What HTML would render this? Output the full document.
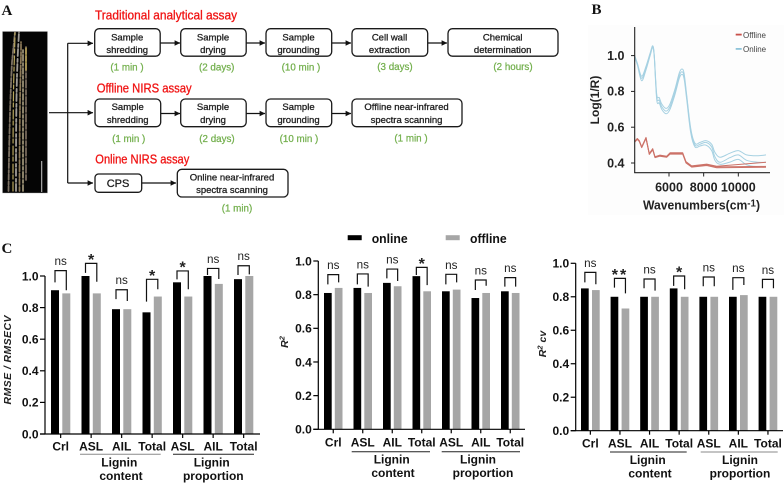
<!DOCTYPE html>
<html lang="en">
<head>
<meta charset="utf-8">
<title>NIRS assay workflow and model comparison</title>
<style>
html,body{margin:0;padding:0;background:#fff;width:784px;height:483px;overflow:hidden}
svg{display:block;filter:blur(.35px)}
text{font-family:"Liberation Sans",sans-serif}
.letter{font-family:"Liberation Serif",serif;font-weight:bold;font-size:15px;fill:#111}
.title{font-size:12.5px;fill:#f01414;stroke:#f01414;stroke-width:.3}
.box{fill:#fff;stroke:#1a1a1a;stroke-width:1.3}
.bt{font-size:9.5px;fill:#222;stroke:#222;stroke-width:.3;text-anchor:middle}
.dur{font-size:9.8px;fill:#74b04e;stroke:#74b04e;stroke-width:.25;text-anchor:middle}
.flow{stroke:#111;stroke-width:1.2;fill:none}
.stem{fill:none;stroke-linecap:round}
</style>
</head>
<body>
<svg id="fig" xmlns="http://www.w3.org/2000/svg" width="784" height="483" viewBox="0 0 784 483">
<defs>
<marker id="ah" markerWidth="6" markerHeight="6" refX="5.4" refY="2.8" orient="auto" markerUnits="userSpaceOnUse"><path d="M0 0L5.6 2.8L0 5.6Z" fill="#111"/></marker>
</defs>
<rect width="784" height="483" fill="#fff"/>

<text class="letter" x="1.5" y="15">A</text>
<text class="letter" x="591.5" y="14">B</text>
<text class="letter" x="1.5" y="253">C</text>

<g>
<rect x="2.5" y="31.5" width="45" height="161.5" fill="#050505" stroke="#aaa" stroke-width=".4"/>
<g class="stem">
<path d="M8.5 191C9 150 10 100 12 62L15 32" stroke="#7d7264" stroke-width="1.8" stroke-dasharray="5 1.5 3 2"/>
<path d="M13 191C13 150 13 90 14.5 55L15 33" stroke="#b9a75e" stroke-width="1.2" stroke-dasharray="9 3 4 2"/>
<path d="M16 191C16 140 16 90 18 50L19 32" stroke="#a09c96" stroke-width="1.8" stroke-dasharray="7 2 3 3"/>
<path d="M19.5 191C19.5 140 20 90 21 55L21 42" stroke="#8d7a58" stroke-width="1.7" stroke-dasharray="4 2 6 1.5"/>
<path d="M23 191C23 140 23 90 23 50" stroke="#a1977a" stroke-width="1.7" stroke-dasharray="6 2 3 2"/>
<path d="M26 180C26 130 26 90 26 47" stroke="#7c6e60" stroke-width="1.7" stroke-dasharray="5 2 8 2"/>
<path d="M26 70L26 48" stroke="#d2b957" stroke-width="1.2"/>
</g>
<line x1="41.7" y1="161" x2="41.7" y2="192" stroke="#bbb" stroke-width="1.1"/>
</g>

<g>
<path class="flow" d="M49 112.7H93" marker-end="url(#ah)"/>
<path class="flow" d="M67.7 43.3V183"/>
<path class="flow" d="M67.7 43.3H93" marker-end="url(#ah)"/>
<path class="flow" d="M67.7 183H93" marker-end="url(#ah)"/>
<path class="flow" d="M160 43H180" marker-end="url(#ah)"/>
<path class="flow" d="M246 43H265" marker-end="url(#ah)"/>
<path class="flow" d="M332 43H351" marker-end="url(#ah)"/>
<path class="flow" d="M428 43H447" marker-end="url(#ah)"/>
<path class="flow" d="M161 113.5H180" marker-end="url(#ah)"/>
<path class="flow" d="M246 113.5H265" marker-end="url(#ah)"/>
<path class="flow" d="M332 113.5H351" marker-end="url(#ah)"/>
<path class="flow" d="M142 183H176" marker-end="url(#ah)"/>
</g>

<g>
<text class="title" x="95" y="19.5" textLength="142" lengthAdjust="spacingAndGlyphs">Traditional analytical assay</text>
<rect class="box" x="94.7" y="28.7" width="65.5" height="27.5" rx="4.5"/>
<text class="bt" x="127.2" y="40.3">Sample</text>
<text class="bt" x="127.2" y="53">shredding</text>
<text class="dur" x="127" y="70.3">(1 min )</text>
<rect class="box" x="180.7" y="28.7" width="65.5" height="27.5" rx="4.5"/>
<text class="bt" x="213" y="40.3">Sample</text>
<text class="bt" x="213" y="53">drying</text>
<text class="dur" x="216.7" y="70.3">(2 days)</text>
<rect class="box" x="266" y="28.7" width="65.7" height="27.5" rx="4.5"/>
<text class="bt" x="298.5" y="40.3">Sample</text>
<text class="bt" x="298.5" y="53">grounding</text>
<text class="dur" x="301" y="70.3">(10 min )</text>
<rect class="box" x="352" y="28.7" width="75.7" height="27.5" rx="4.5"/>
<text class="bt" x="389.5" y="40.3">Cell wall</text>
<text class="bt" x="389.5" y="53">extraction</text>
<text class="dur" x="395" y="70">(3 days)</text>
<rect class="box" x="448" y="28.7" width="110" height="27.5" rx="4.5"/>
<text class="bt" x="502.7" y="40.3">Chemical</text>
<text class="bt" x="502.7" y="53">determination</text>
<text class="dur" x="513" y="70">(2 hours)</text>
</g>

<g>
<text class="title" x="96.7" y="92.5" textLength="95" lengthAdjust="spacingAndGlyphs">Offline NIRS assay</text>
<rect class="box" x="95" y="99" width="65.7" height="27.7" rx="4.5"/>
<text class="bt" x="127.7" y="110">Sample</text>
<text class="bt" x="127.7" y="123">shredding</text>
<text class="dur" x="128.7" y="142">(1 min )</text>
<rect class="box" x="180.7" y="99" width="65.5" height="27.7" rx="4.5"/>
<text class="bt" x="213" y="110">Sample</text>
<text class="bt" x="213" y="123">drying</text>
<text class="dur" x="217" y="142">(2 days)</text>
<rect class="box" x="266" y="99" width="65.7" height="27.7" rx="4.5"/>
<text class="bt" x="298.5" y="110">Sample</text>
<text class="bt" x="298.5" y="123">grounding</text>
<text class="dur" x="299" y="142">(10 min )</text>
<rect class="box" x="352" y="99" width="110" height="27.7" rx="4.5"/>
<text class="bt" x="406.5" y="110">Offline near-infrared</text>
<text class="bt" x="406.5" y="123">spectra scanning</text>
<text class="dur" x="411" y="141.7">(1 min )</text>
</g>

<g>
<text class="title" x="95.3" y="163.5" textLength="94" lengthAdjust="spacingAndGlyphs">Online NIRS assay</text>
<rect class="box" x="95" y="174" width="46.7" height="18.3" rx="3.5"/>
<text class="bt" x="118" y="187" style="font-size:11px">CPS</text>
<rect class="box" x="177.3" y="169.3" width="110.7" height="27.7" rx="4.5"/>
<text class="bt" x="232" y="180.3">Online near-infrared</text>
<text class="bt" x="232" y="193">spectra scanning</text>
<text class="dur" x="237" y="211.5">(1 min)</text>
</g>

<g id="spectrum"></g>
<g id="legendC">
<rect x="347.7" y="235.2" width="14" height="5" fill="#000"/>
<text x="371.7" y="243" font-size="13" font-weight="bold" fill="#111" textLength="36" lengthAdjust="spacingAndGlyphs">online</text>
<rect x="445.7" y="235.2" width="14" height="5" fill="#a6a6a6"/>
<text x="470" y="243" font-size="13" font-weight="bold" fill="#111" textLength="36.7" lengthAdjust="spacingAndGlyphs">offline</text>
</g>
<g id="bars"></g>
</svg>

<script>
// ---------- Spectrum data ----------
const onlineWavenumbers = [4020,4180,4420,4670,4900,5060,5150,5290,5440,5580,5830,6060,6350,6600,6750,6870,7020,7250,7500,7790,8130,8460,8650,8940,9520,10000,10480,11060,11600];
const onlineUpper = [1.0,.955,.885,.94,1.01,1.055,1.0,.785,.765,.73,.705,.73,.815,.905,.925,.9,.78,.595,.51,.515,.525,.505,.46,.432,.455,.469,.445,.44,.445];
const onlineMiddle = [1.0,.95,.873,.93,1.0,1.05,.995,.77,.75,.715,.69,.715,.8,.89,.91,.885,.77,.585,.5,.505,.515,.49,.435,.404,.43,.445,.415,.405,.404];
const onlineLower = [.995,.945,.86,.92,.995,1.045,.99,.755,.735,.7,.675,.7,.785,.875,.895,.87,.755,.57,.49,.495,.5,.47,.415,.393,.405,.42,.39,.38,.38];
const offlineWavenumbers = [4020,4173,4288,4423,4673,4865,5058,5192,5480,5865,6058,6788,6980,7308,8173,8750,11600];
const offlineUpper = [.52,.537,.525,.49,.543,.453,.48,.435,.444,.438,.457,.457,.407,.384,.394,.382,.404];
const offlineMiddle = [.52,.535,.522,.488,.54,.45,.477,.432,.441,.435,.453,.453,.403,.38,.39,.378,.381];
const offlineLower = [.517,.532,.52,.486,.537,.448,.474,.43,.438,.432,.45,.45,.4,.377,.386,.374,.376];
const spectrumYTicks = [0.4,0.6,0.8,1.0];
const spectrumXTicks = [6000,8000,10000];

// ---------- Bar chart data ----------
const categories = ['Crl','ASL','AIL','Total','ASL','AIL','Total'];
const yTickLabels = ['0.0','0.2','0.4','0.6','0.8','1.0'];
const rmseOnline = [.91,1.0,.79,.77,.96,1.0,.98];
const rmseOffline = [.89,.89,.79,.87,.87,.95,1.0];
const rmseSig = ['ns','*','ns','*','*','ns','ns'];
const rmseBracketTop = [1.034,1.08,.913,.979,1.032,1.048,1.065];
const rmseBracketLeftEnd = [.96,1.02,.854,.838,.979,1.006,1.006];
const rmseBracketRightEnd = [.91,.964,.842,.916,.916,.981,1.01];
const r2Online = [.81,.84,.87,.91,.82,.78,.82];
const r2Offline = [.84,.81,.85,.82,.83,.81,.81];
const r2Sig = ['ns','ns','ns','*','ns','ns','ns'];
const r2BracketTop = [.919,.923,.952,.962,.921,.887,.901];
const r2BracketLeftEnd = [.861,.861,.897,.917,.861,.828,.848];
const r2BracketRightEnd = [.873,.848,.881,.857,.873,.853,.848];
const r2cvOnline = [.85,.80,.80,.85,.80,.80,.80];
const r2cvOffline = [.84,.73,.80,.80,.80,.81,.80];
const r2cvSig = ['ns','**','ns','*','ns','ns','ns'];
const r2cvBracketTop = [.946,.91,.906,.924,.918,.914,.904];
const r2cvBracketLeftEnd = [.886,.855,.851,.865,.863,.841,.851];
const r2cvBracketRightEnd = [.875,.82,.837,.845,.863,.87,.851];

const NS = 'http://www.w3.org/2000/svg';
function mk(parent, tag, attrs, txt) {
  const e = document.createElementNS(NS, tag);
  for (const k in attrs) e.setAttribute(k, attrs[k]);
  if (txt !== undefined) e.textContent = txt;
  parent.appendChild(e);
  return e;
}

// ---------- Spectrum ----------
(function () {
  const g = document.getElementById('spectrum');
  const sx = w => 669 + (w - 6000) * 0.01733;
  const sy = v => 163 - (v - 0.4) * 179;
  const smooth = (xs, ys) => {
    const p = xs.map((w, i) => [sx(w), sy(ys[i])]);
    let d = 'M' + p[0][0].toFixed(1) + ' ' + p[0][1].toFixed(1);
    for (let i = 0; i < p.length - 1; i++) {
      const a = p[Math.max(i - 1, 0)], b = p[i], c = p[i + 1], e = p[Math.min(i + 2, p.length - 1)];
      const c1 = [b[0] + (c[0] - a[0]) / 6, b[1] + (c[1] - a[1]) / 6];
      const c2 = [c[0] - (e[0] - b[0]) / 6, c[1] - (e[1] - b[1]) / 6];
      d += 'C' + [c1[0], c1[1], c2[0], c2[1], c[0], c[1]].map(n => n.toFixed(1)).join(' ');
    }
    return d;
  };
  const straight = (xs, ys) => 'M' + xs.map((w, i) => sx(w).toFixed(1) + ' ' + sy(ys[i]).toFixed(1)).join('L');

  const bg = mk(g, 'rect', {x: 588, y: 25, width: 196, height: 190, fill: '#fdfdfd'});
  
  

  const onlineSeries = [onlineUpper, onlineMiddle, onlineLower];
  onlineSeries.forEach(vals => {
    const l = mk(g, 'path', {d: smooth(onlineWavenumbers, vals), fill: 'none', stroke: '#a6d1e2', 'stroke-width': 1});
    
    
  });
  const offlineSeries = [offlineUpper, offlineMiddle, offlineLower];
  offlineSeries.forEach(vals => {
    const l = mk(g, 'path', {d: straight(offlineWavenumbers, vals), fill: 'none', stroke: '#cc7268', 'stroke-width': 1, 'stroke-linejoin': 'round'});
    
    
  });

  const ya = mk(g, 'path', {d: 'M634.7 27V172.7', stroke: '#222', 'stroke-width': 1.1, fill: 'none'});
  
  
  const xa = mk(g, 'path', {d: 'M634.2 172.7H770', stroke: '#222', 'stroke-width': 1.1, fill: 'none'});
  
  

  spectrumYTicks.forEach(v => {
    const t = mk(g, 'path', {d: 'M631 ' + sy(v) + 'H634.7', stroke: '#222', 'stroke-width': 1});
    
    
    const l = mk(g, 'text', {x: 624.5, y: sy(v) + 4.3, 'text-anchor': 'end', 'font-size': 12.5, 'font-weight': 'bold', fill: '#222'}, v.toFixed(1));
    
    
  });
  spectrumXTicks.forEach(v => {
    const t = mk(g, 'path', {d: 'M' + sx(v) + ' 172.7V176.5', stroke: '#222', 'stroke-width': 1});
    
    
    const l = mk(g, 'text', {x: sx(v), y: 191.5, 'text-anchor': 'middle', 'font-size': 12.5, 'font-weight': 'bold', fill: '#222'}, String(v));
    
    
  });
  const xt = mk(g, 'text', {x: 643, y: 209.5, 'font-size': 12.5, 'font-weight': 'bold', fill: '#222', textLength: 117, lengthAdjust: 'spacingAndGlyphs'});
  
  
  xt.appendChild(document.createTextNode('Wavenumbers(cm'));
  mk(xt, 'tspan', {dy: -3, 'font-size': 10}, '-1');
  mk(xt, 'tspan', {dy: 3}, ')');
  const yt = mk(g, 'text', {transform: 'translate(599,100) rotate(-90)', 'text-anchor': 'middle', 'font-size': 12, 'font-weight': 'bold', fill: '#222'}, 'Log(1/R)');
  
  

  const ls1 = mk(g, 'rect', {x: 735.7, y: 33.7, width: 6, height: 1.8, fill: '#c8504a'});
  
  
  const lt1 = mk(g, 'text', {x: 743, y: 37.8, 'font-size': 8, fill: '#444'}, 'Offline');
  
  
  const ls2 = mk(g, 'rect', {x: 735.7, y: 48, width: 6, height: 1.8, fill: '#8fc4da'});
  
  
  const lt2 = mk(g, 'text', {x: 743, y: 52, 'font-size': 8, fill: '#444'}, 'Online');
  
  
})();

// ---------- Bar panels ----------
function drawPanel(cfg) {
  const root = document.getElementById('bars');
  const g = mk(root, 'g', {});
  
  
  const y = v => cfg.y0 - (cfg.y0 - cfg.y1) * v;
  const bx = i => cfg.first + cfg.step * i;

  cfg.online.forEach((v, i) => {
    const b = mk(g, 'rect', {x: bx(i), y: y(v), width: cfg.barW, height: cfg.y0 - y(v), fill: '#000'});
    
    
  });
  cfg.offline.forEach((v, i) => {
    const b = mk(g, 'rect', {x: bx(i) + cfg.gap, y: y(v), width: cfg.barW, height: cfg.y0 - y(v), fill: '#a6a6a6'});
    
    
  });

  const ya = mk(g, 'path', {d: 'M' + cfg.axis + ' ' + y(1) + 'V' + cfg.y0, stroke: '#000', 'stroke-width': 1.2, fill: 'none'});
  
  
  const xa = mk(g, 'path', {d: 'M' + (cfg.axis - 5) + ' ' + cfg.y0 + 'H' + cfg.end, stroke: '#000', 'stroke-width': 1.2, fill: 'none'});
  
  

  yTickLabels.forEach(s => {
    const v = parseFloat(s);
    const t = mk(g, 'path', {d: 'M' + (cfg.axis - 5) + ' ' + y(v) + 'H' + cfg.axis, stroke: '#000', 'stroke-width': 1.2});
    
    
    const l = mk(g, 'text', {x: cfg.axis - 6.5, y: y(v) + 4.3, 'text-anchor': 'end', 'font-size': 12, 'font-weight': 'bold', fill: '#111'}, s);
    
    
  });

  categories.forEach((c, i) => {
    const cx = bx(i) + (cfg.gap + cfg.barW) / 2;
    const t = mk(g, 'path', {d: 'M' + cx + ' ' + cfg.y0 + 'V' + (cfg.y0 + 4), stroke: '#000', 'stroke-width': 1.2});
    
    
    const l = mk(g, 'text', {x: cx, y: cfg.catY, 'text-anchor': 'middle', 'font-size': 12, 'font-weight': 'bold', fill: '#111'}, c);
    
    

    const lx = bx(i) + cfg.barW / 2, rx = lx + cfg.gap;
    const top = y(cfg.top[i]);
    const br = mk(g, 'path', {d: 'M' + lx + ' ' + y(cfg.leftEnd[i]) + 'V' + top + 'H' + rx + 'V' + y(cfg.rightEnd[i]), fill: 'none', stroke: '#111', 'stroke-width': 1.2});
    
    
    const isStar = cfg.sig[i] !== 'ns';
    const sl = mk(g, 'text', {
      x: (lx + rx) / 2, y: isStar ? top + 1.5 : top - 5.5, 'text-anchor': 'middle',
      'font-size': isStar ? 16 : 11.7, 'font-weight': isStar ? 'bold' : 'normal',
      'letter-spacing': cfg.sig[i] === '**' ? 2 : 0, fill: '#222'
    }, cfg.sig[i]);
    
    
  });

  cfg.groups.forEach(gr => {
    const ln = mk(g, 'path', {d: 'M' + gr.x1 + ' ' + cfg.lineY + 'H' + gr.x2, stroke: gr.color, 'stroke-width': 1});
    
    
    const a = mk(g, 'text', {x: gr.lx, y: cfg.lineY + 12, 'text-anchor': 'middle', 'font-size': 12, 'font-weight': 'bold', fill: '#111'}, 'Lignin');
    
    
    const b = mk(g, 'text', {x: gr.tx, y: cfg.lineY + 25.5, 'text-anchor': 'middle', 'font-size': 12, 'font-weight': 'bold', fill: '#111'}, gr.word);
    
    
  });

  const yt = mk(g, 'text', {transform: 'translate(' + cfg.titleX + ',' + cfg.titleY + ') rotate(-90)', 'text-anchor': 'middle', 'font-size': 10.5, 'font-weight': 'bold', 'font-style': 'italic', fill: '#222'});
  
  
  if (cfg.titleLen) {
    yt.setAttribute('textLength', cfg.titleLen);
  }
  yt.appendChild(document.createTextNode(cfg.title[0]));
  if (cfg.title[1]) mk(yt, 'tspan', {dy: -3.5, 'font-size': 7.5}, cfg.title[1]);
  if (cfg.title[2]) mk(yt, 'tspan', {dy: 3.5}, cfg.title[2]);
}

drawPanel({name: 'rmse', online: rmseOnline, offline: rmseOffline, sig: rmseSig, top: rmseBracketTop, leftEnd: rmseBracketLeftEnd, rightEnd: rmseBracketRightEnd,
  axis: 45, end: 260, y0: 434, y1: 276, first: 51, step: 30.5, barW: 8, gap: 11.3, catY: 450.3, lineY: 454.3,
  title: ['RMSE / RMSECV'], titleLen: 89, titleX: 11, titleY: 360,
  groups: [{x1: 80, x2: 160.7, color: '#8a8a8a', lx: 119.3, tx: 121, word: 'content'}, {x1: 173, x2: 254, color: '#222', lx: 211.7, tx: 213.3, word: 'proportion'}]});
drawPanel({name: 'r-squared', online: r2Online, offline: r2Offline, sig: r2Sig, top: r2BracketTop, leftEnd: r2BracketLeftEnd, rightEnd: r2BracketRightEnd,
  axis: 318.3, end: 525, y0: 429.3, y1: 261, first: 324, step: 29.5, barW: 7.7, gap: 10.8, catY: 446.6, lineY: 451.7,
  title: ['R', '2'], titleX: 288, titleY: 342,
  groups: [{x1: 351.7, x2: 430, color: '#222', lx: 391.7, tx: 393, word: 'content'}, {x1: 441.7, x2: 520, color: '#222', lx: 478, tx: 483, word: 'proportion'}]});
drawPanel({name: 'r-squared-cv', online: r2cvOnline, offline: r2cvOffline, sig: r2cvSig, top: r2cvBracketTop, leftEnd: r2cvBracketLeftEnd, rightEnd: r2cvBracketRightEnd,
  axis: 575.7, end: 783, y0: 430.7, y1: 263.3, first: 581, step: 29.6, barW: 7.7, gap: 11, catY: 447.6, lineY: 452,
  title: ['R', '2', ' cv'], titleX: 546, titleY: 344,
  groups: [{x1: 610, x2: 686.7, color: '#222', lx: 647.7, tx: 650, word: 'content'}, {x1: 700.7, x2: 777.7, color: '#8a8a8a', lx: 740, tx: 740, word: 'proportion'}]});
</script>
</body>
</html>
